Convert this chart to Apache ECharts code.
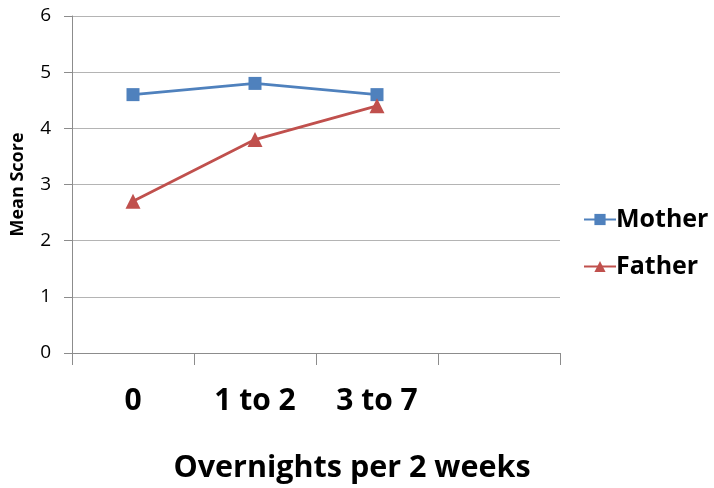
<!DOCTYPE html>
<html>
<head>
<meta charset="utf-8">
<script src="https://cdn.jsdelivr.net/npm/echarts@6/dist/echarts.min.js"></script>
<style>
  html, body { margin: 0; padding: 0; background: #ffffff; }
  #chart { width: 714px; height: 488px; }
</style>
</head>
<body>
<div id="chart"></div>
<script>
// Overnight groups (the fourth slot is an empty category)
const categories = ['0', '1 to 2', '3 to 7', ''];
const motherScores = [4.6, 4.8, 4.6, null];
const fatherScores = [2.7, 3.8, 4.4, null];
const yTicks = [0, 1, 2, 3, 4, 5, 6];

const FONT = '"Open Sans", "Liberation Sans", sans-serif';
const BLUE = '#4F81BD';
const RED = '#C0504D';

const chart = echarts.init(document.getElementById('chart'), null, { renderer: 'canvas' });

chart.setOption({
  animation: false,
  backgroundColor: '#ffffff',
  title: {
    text: 'Overnights per 2 weeks',
    left: 347,
    top: 448,
    textAlign: 'center',
    textStyle: { fontFamily: FONT, fontWeight: 'bold', fontSize: 30.5, color: '#000' }
  },
  grid: { left: 72, right: 154, top: 16, bottom: 135, containLabel: false },
  legend: {
    orient: 'vertical',
    left: 578,
    top: 202,
    itemGap: 22,
    itemWidth: 32,
    itemHeight: 14,
    data: ['Mother', 'Father'],
    textStyle: { fontFamily: FONT, fontWeight: 'bold', fontSize: 25, color: '#000', padding: [0, 0, 0, -5] }
  },
  xAxis: {
    type: 'category',
    data: categories,
    boundaryGap: true,
    axisLine: { lineStyle: { color: '#8c8c8c', width: 1 } },
    axisTick: { show: true, length: 12, alignWithLabel: false, lineStyle: { color: '#8c8c8c' } },
    axisLabel: { margin: 33, fontFamily: FONT, fontWeight: 'bold', fontSize: 30, color: '#000' },
    splitLine: { show: false }
  },
  yAxis: {
    type: 'value',
    min: yTicks[0],
    max: yTicks[yTicks.length - 1],
    interval: 1,
    name: 'Mean Score',
    nameLocation: 'middle',
    nameGap: 45,
    nameRotate: 90,
    nameTextStyle: { fontFamily: FONT, fontWeight: 'bold', fontSize: 18, color: '#000' },
    axisLine: { show: true, lineStyle: { color: '#8c8c8c', width: 1 } },
    axisTick: { show: true, length: 8, lineStyle: { color: '#8c8c8c' } },
    axisLabel: { margin: 21, fontFamily: FONT, fontSize: 19, color: '#000' },
    splitLine: { show: true, lineStyle: { color: '#b4b4b4', width: 1 } }
  },
  series: [
    {
      name: 'Mother',
      type: 'line',
      data: motherScores,
      symbol: 'rect',
      symbolSize: 13,
      itemStyle: { color: BLUE },
      lineStyle: { color: BLUE, width: 2.75 }
    },
    {
      name: 'Father',
      type: 'line',
      data: fatherScores,
      symbol: 'triangle',
      symbolSize: 15,
      itemStyle: { color: RED },
      lineStyle: { color: RED, width: 2.75 }
    }
  ]
});
</script>
</body>
</html>
